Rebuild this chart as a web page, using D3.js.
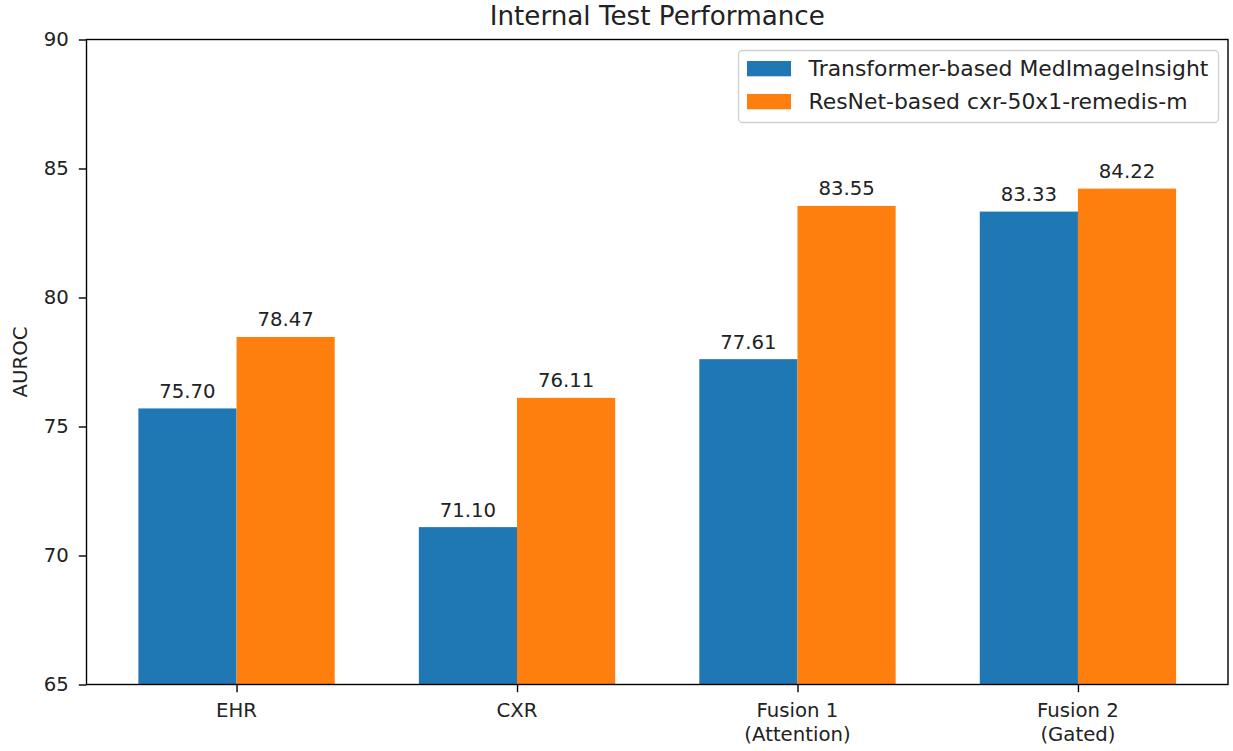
<!DOCTYPE html>
<html><head><meta charset="utf-8">
<script src="https://cdn.jsdelivr.net/npm/d3@7"></script>
<style>body{margin:0;background:#fff}text{font-family:"DejaVu Sans",sans-serif}</style>
</head><body>
<svg id="c" width="1233" height="751"></svg>
<script>
const categories = ["EHR", "CXR", "Fusion 1\n(Attention)", "Fusion 2\n(Gated)"];
const seriesNames = ["Transformer-based MedImageInsight", "ResNet-based cxr-50x1-remedis-m"];
const transformerValues = [75.70, 71.10, 77.61, 83.33];
const resnetValues = [78.47, 76.11, 83.55, 84.22];
const yTicks = [65, 70, 75, 80, 85, 90];
const colors = ["#1f77b4", "#ff7f0e"];

const svg = d3.select("#c");
const m = {l: 86.5, r: 1228, t: 39.5, b: 684.5};
const barW = 0.35;
const fsSmall = 19.7, fsLegend = 21.9, fsTitle = 26.2;
const x = d3.scaleLinear().domain([-0.535, 3.535]).range([m.l, m.r]);
const y = d3.scaleLinear().domain([65, 90]).range([m.b, m.t]);
const series = [transformerValues, resnetValues];

const g = svg.append("g");
series.forEach((vals, si) => {
  vals.forEach((v, i) => {
    const x0 = i + (si === 0 ? -barW : 0);
    g.append("rect").attr("x", x(x0)).attr("width", x(x0 + barW) - x(x0))
      .attr("y", y(v)).attr("height", y(65) - y(v)).attr("fill", colors[si]);
    g.append("text").attr("x", x(x0 + barW / 2)).attr("y", y(v) - 10.5)
      .attr("text-anchor", "middle").attr("font-size", fsSmall).attr("fill", "#222")
      .text(v.toFixed(2));
  });
});

// frame
svg.append("rect").attr("x", m.l).attr("y", m.t).attr("width", m.r - m.l).attr("height", m.b - m.t)
  .attr("fill", "none").attr("stroke", "#000").attr("stroke-width", 1.4);

// y axis
const yAxis = d3.axisLeft(y).tickValues(yTicks).tickSize(7.7).tickPadding(10).tickFormat(d3.format("d"));
const ya = svg.append("g").attr("transform", `translate(${m.l},0)`).call(yAxis);
ya.select(".domain").remove();
ya.selectAll("line").attr("stroke", "#000").attr("stroke-width", 1.4);
ya.selectAll("text").attr("font-size", fsSmall).attr("fill", "#222").attr("font-family", "DejaVu Sans");

// x axis
const xAxis = d3.axisBottom(x).tickValues([0, 1, 2, 3]).tickSize(7.7).tickFormat(() => "");
const xa = svg.append("g").attr("transform", `translate(0,${m.b})`).call(xAxis);
xa.select(".domain").remove();
xa.selectAll("line").attr("stroke", "#000").attr("stroke-width", 1.4);
categories.forEach((c, i) => {
  const lines = c.split("\n");
  const t = svg.append("text").attr("x", x(i)).attr("y", 717).attr("text-anchor", "middle")
    .attr("font-size", fsSmall).attr("fill", "#222");
  lines.forEach((ln, k) => t.append("tspan").attr("x", x(i)).attr("dy", k === 0 ? 0 : 23.8).text(ln));
});

// y label
svg.append("text").attr("transform", `translate(27,${(m.t + m.b) / 2}) rotate(-90)`)
  .attr("text-anchor", "middle").attr("font-size", fsSmall).attr("fill", "#222").text("AUROC");

// title
svg.append("text").attr("x", (m.l + m.r) / 2).attr("y", 25).attr("text-anchor", "middle")
  .attr("font-size", fsTitle).attr("fill", "#222").text("Internal Test Performance");

// legend
const lg = svg.append("g");
lg.append("rect").attr("x", 738.5).attr("y", 50.5).attr("width", 480).attr("height", 72).attr("rx", 4)
  .attr("fill", "#fff").attr("fill-opacity", 0.8).attr("stroke", "#d0d0d0").attr("stroke-width", 1.3);
seriesNames.forEach((n, i) => {
  lg.append("rect").attr("x", 747).attr("y", 61 + i * 33).attr("width", 44).attr("height", 15.3).attr("fill", colors[i]);
  lg.append("text").attr("x", 808.5).attr("y", 76 + i * 32.5).attr("font-size", fsLegend).attr("fill", "#222").text(n);
});
</script>
</body></html>
